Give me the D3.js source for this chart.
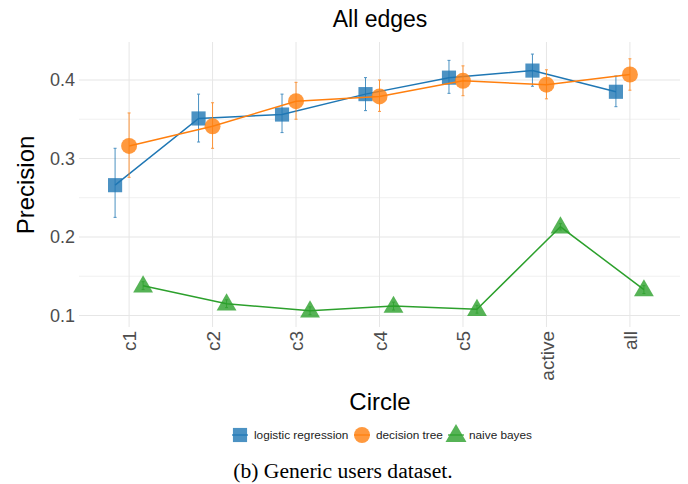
<!DOCTYPE html>
<html>
<head>
<meta charset="utf-8">
<script src="https://cdn.jsdelivr.net/npm/d3@7"></script>
<style>
  html, body { margin: 0; padding: 0; background: #fff; }
  svg { display: block; }
</style>
</head>
<body>
<svg id="chart" width="688" height="484"></svg>
<script>
// Categories (social circles) and per-model precision with error bounds
const categories = ["c1", "c2", "c3", "c4", "c5", "active", "all"];
const seriesNames = ["logistic regression", "decision tree", "naive bayes"];

const lrValues = [0.266, 0.351, 0.356, 0.382, 0.403, 0.412, 0.385];
const lrLow    = [0.225, 0.321, 0.333, 0.361, 0.383, 0.392, 0.366];
const lrHigh   = [0.313, 0.382, 0.382, 0.403, 0.425, 0.433, 0.405];

const dtValues = [0.316, 0.341, 0.373, 0.379, 0.399, 0.394, 0.407];
const dtLow    = [0.276, 0.313, 0.350, 0.360, 0.380, 0.376, 0.387];
const dtHigh   = [0.358, 0.371, 0.397, 0.400, 0.418, 0.413, 0.427];

const nbValues = [0.138, 0.115, 0.106, 0.112, 0.108, 0.213, 0.133];
const nbLow    = [0.133, 0.110, 0.101, 0.107, 0.103, 0.209, 0.128];
const nbHigh   = [0.143, 0.120, 0.111, 0.117, 0.113, 0.217, 0.138];

const yTicks = [0.1, 0.2, 0.3, 0.4];
const yMinorTicks = [0.15, 0.25, 0.35];

const colors = ["#1f77b4", "#ff7f0e", "#2ca02c"];
const symbols = [d3.symbolSquare, d3.symbolCircle, d3.symbolTriangle];
const dodge = [-14, 0, 14];

const series = [
  { name: seriesNames[0], values: lrValues, low: lrLow, high: lrHigh },
  { name: seriesNames[1], values: dtValues, low: dtLow, high: dtHigh },
  { name: seriesNames[2], values: nbValues, low: nbLow, high: nbHigh }
];

const svg = d3.select("#chart");
const plot = { left: 79, right: 680, top: 42, bottom: 327 };

const x = d3.scalePoint().domain(categories).range([plot.left, plot.right]).padding(0.6);
const y = d3.scaleLinear().domain([0.08535, 0.4484]).range([plot.bottom, plot.top]);

const fontSans = "'Liberation Sans', Arial, Helvetica, sans-serif";

// Grid
const grid = svg.append("g");
grid.selectAll("line.minor").data(yMinorTicks).join("line")
  .attr("x1", plot.left).attr("x2", plot.right)
  .attr("y1", d => y(d)).attr("y2", d => y(d))
  .attr("stroke", "#f0f0f0").attr("stroke-width", 1);
grid.selectAll("line.major").data(yTicks).join("line")
  .attr("x1", plot.left).attr("x2", plot.right)
  .attr("y1", d => y(d)).attr("y2", d => y(d))
  .attr("stroke", "#e6e6e6").attr("stroke-width", 1.1);
grid.selectAll("line.vert").data(categories).join("line")
  .attr("x1", d => x(d)).attr("x2", d => x(d))
  .attr("y1", plot.top).attr("y2", plot.bottom)
  .attr("stroke", "#e6e6e6").attr("stroke-width", 1);

// Y axis
const yAxis = d3.axisLeft(y).tickValues(yTicks).tickFormat(d3.format(".1f")).tickSize(0).tickPadding(4);
const gy = svg.append("g").attr("transform", `translate(${plot.left},0)`).call(yAxis);
gy.select(".domain").remove();
gy.selectAll("text").attr("font-family", fontSans).attr("font-size", 18).attr("fill", "#4d4d4d");

// X axis (rotated labels)
const xAxis = d3.axisBottom(x).tickSize(0).tickPadding(0);
const gx = svg.append("g").attr("transform", `translate(0,${plot.bottom})`).call(xAxis);
gx.select(".domain").remove();
gx.selectAll("text")
  .attr("font-family", fontSans).attr("font-size", 19).attr("fill", "#4d4d4d")
  .attr("transform", "rotate(-90)")
  .attr("text-anchor", "end")
  .attr("x", -4).attr("y", 0).attr("dy", "0.35em");

// Series
series.forEach((s, i) => {
  const g = svg.append("g");
  const px = c => x(c) + dodge[i];
  const pts = categories.map((c, j) => ({ c, v: s.values[j], lo: s.low[j], hi: s.high[j] }));

  g.append("path")
    .datum(pts)
    .attr("fill", "none")
    .attr("stroke", colors[i])
    .attr("stroke-width", 1.5)
    .attr("d", d3.line().x(d => px(d.c)).y(d => y(d.v)));

  const eb = g.selectAll("g.eb").data(pts).join("g").attr("stroke", colors[i]).attr("stroke-width", 1).attr("opacity", 0.8);
  eb.append("line").attr("x1", d => px(d.c)).attr("x2", d => px(d.c)).attr("y1", d => y(d.lo)).attr("y2", d => y(d.hi));
  eb.append("line").attr("x1", d => px(d.c) - 1.5).attr("x2", d => px(d.c) + 1.5).attr("y1", d => y(d.lo)).attr("y2", d => y(d.lo));
  eb.append("line").attr("x1", d => px(d.c) - 1.5).attr("x2", d => px(d.c) + 1.5).attr("y1", d => y(d.hi)).attr("y2", d => y(d.hi));

  const size = i === 2 ? 170 : 200;
  g.selectAll("path.m").data(pts).join("path")
    .attr("d", d3.symbol().type(symbols[i]).size(size))
    .attr("transform", d => `translate(${px(d.c)},${y(d.v) + (i === 2 ? 1 : 0)})`)
    .attr("fill", colors[i])
    .attr("fill-opacity", 0.8);
});

// Title and axis titles
svg.append("text").attr("x", 380).attr("y", 27).attr("text-anchor", "middle")
  .attr("font-family", fontSans).attr("font-size", 23).attr("fill", "#000").text("All edges");
svg.append("text").attr("transform", "translate(34,185) rotate(-90)").attr("text-anchor", "middle")
  .attr("font-family", fontSans).attr("font-size", 24).attr("fill", "#000").text("Precision");
svg.append("text").attr("x", 380).attr("y", 410).attr("text-anchor", "middle")
  .attr("font-family", fontSans).attr("font-size", 24).attr("fill", "#000").text("Circle");

// Legend
const legendItems = [
  { sx: 240, tx: 254 },
  { sx: 362, tx: 376 },
  { sx: 456, tx: 469 }
];
const legend = svg.append("g");
series.forEach((s, i) => {
  const ly = 435;
  legend.append("path")
    .attr("d", d3.symbol().type(symbols[i]).size(i === 2 ? 190 : 200))
    .attr("transform", `translate(${legendItems[i].sx},${ly + (i === 2 ? 1 : 0)})`)
    .attr("fill", colors[i]).attr("fill-opacity", 0.8);
  legend.append("line")
    .attr("x1", legendItems[i].sx - 8).attr("x2", legendItems[i].sx + 8)
    .attr("y1", ly).attr("y2", ly)
    .attr("stroke", colors[i]).attr("stroke-width", 1.2);
  legend.append("text")
    .attr("x", legendItems[i].tx).attr("y", ly).attr("dy", "0.35em")
    .attr("font-family", fontSans).attr("font-size", 11.8).attr("fill", "#222")
    .text(s.name);
});

// Caption
svg.append("text").attr("x", 343).attr("y", 478).attr("text-anchor", "middle")
  .attr("font-family", "'Liberation Serif', 'Times New Roman', serif").attr("font-size", 21.6).attr("fill", "#000")
  .text("(b) Generic users dataset.");
</script>
</body>
</html>
